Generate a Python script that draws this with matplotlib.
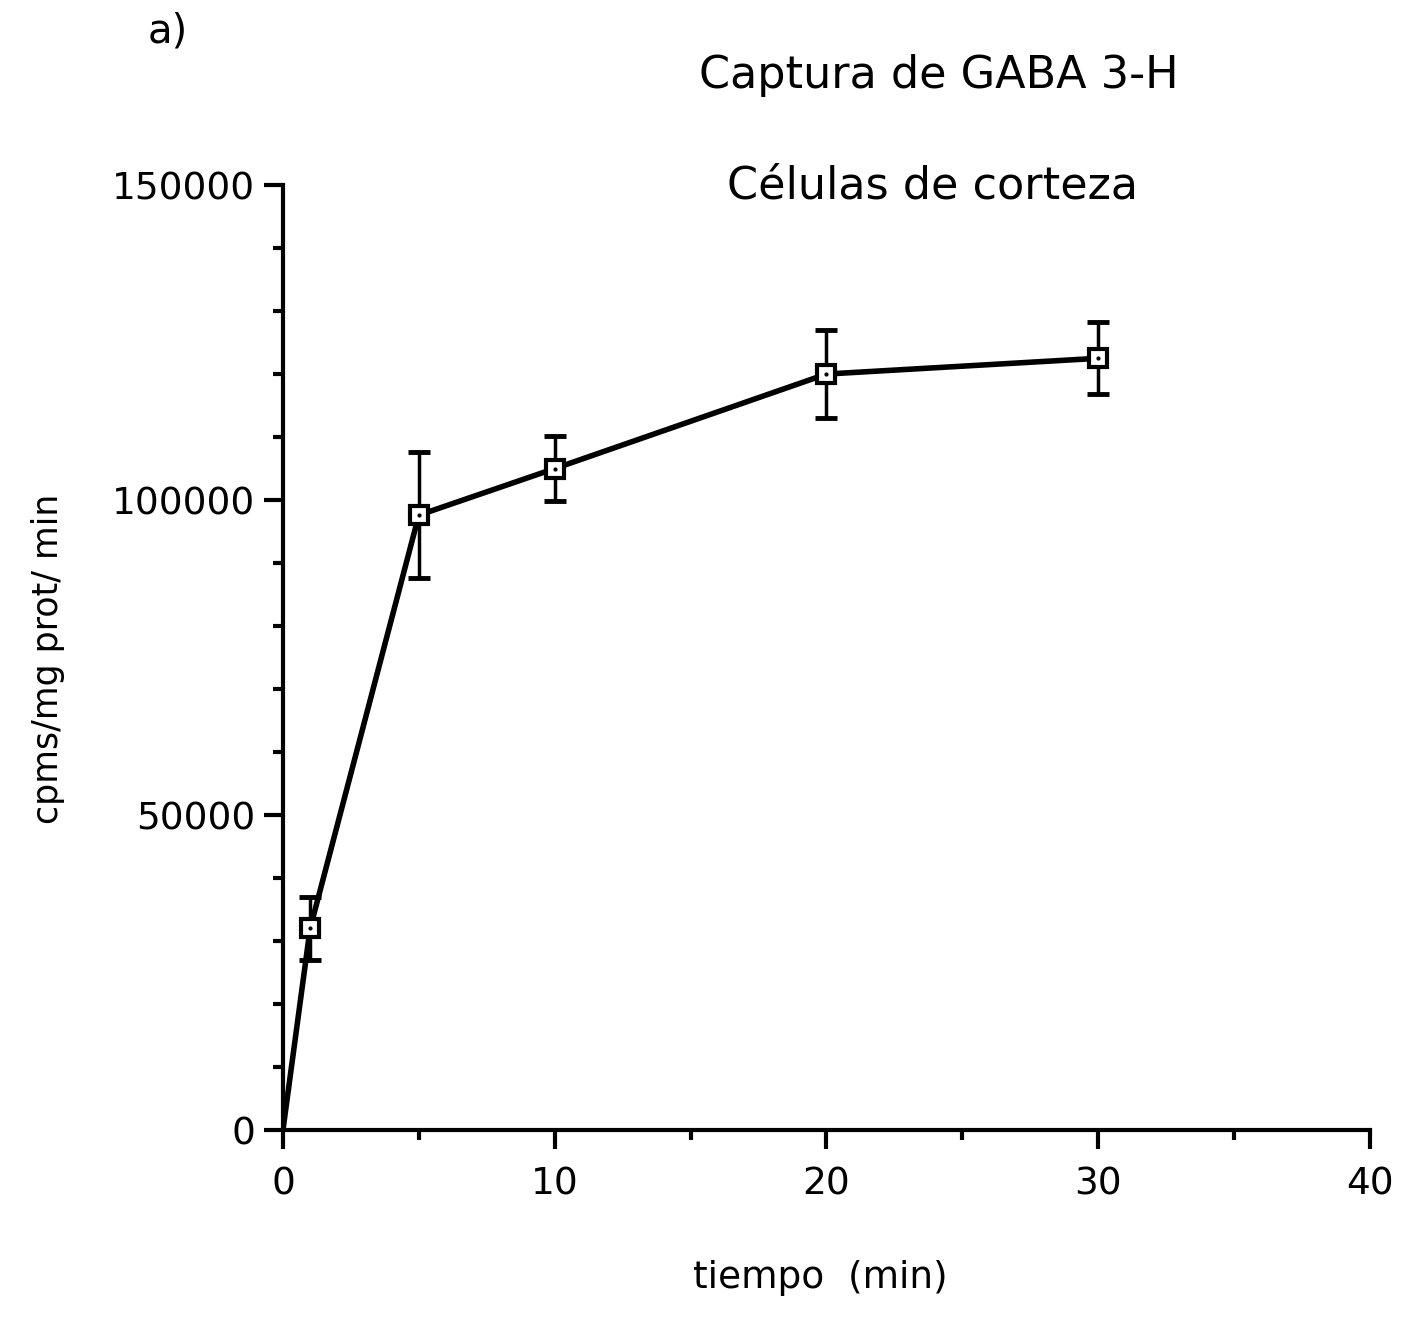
import numpy as np
import matplotlib as mpl
mpl.use('Agg')
import matplotlib.pyplot as plt

# Datos
tiempo = [0, 1, 5, 10, 20, 30]
captura = [0, 32000, 97600, 105000, 120000, 122500]
error = [0, 5000, 10000, 5200, 7000, 5700]

plt.rcParams['font.family'] = ['DejaVu Sans']

fig = plt.figure(figsize=(14.07, 13.18), dpi=100)
ax = fig.add_axes([0.2011, 0.1426, 0.7726, 0.717])

# curva principal
ax.plot(tiempo, captura, color='black', lw=4, zorder=2)
# barras de error (sin el punto en el origen)
ax.errorbar(tiempo[1:], captura[1:], yerr=error[1:], fmt='none', ecolor='black',
            elinewidth=2.5, capsize=8, capthick=3.5, zorder=3)
ax.plot(tiempo[1:], captura[1:], linestyle='none', marker='s', markersize=13,
        markerfacecolor='white', markeredgecolor='black', markeredgewidth=3, zorder=4)
ax.plot(tiempo[1:], captura[1:], linestyle='none', marker='.', markersize=4,
        color='black', zorder=5)

ax.set_xlim(0, 40)
ax.set_ylim(0, 150000)
ax.set_xticks([0, 10, 20, 30, 40])
ax.set_xticks([5, 15, 25, 35], minor=True)
ax.set_yticks([0, 50000, 100000, 150000])
ax.set_yticks(np.arange(10000, 150000, 10000), minor=True)

ax.spines['top'].set_visible(False)
ax.spines['right'].set_visible(False)
ax.spines['left'].set_linewidth(3)
ax.spines['bottom'].set_linewidth(3)

ax.tick_params(axis='both', which='major', direction='out', length=14, width=3,
               labelsize=27)
ax.tick_params(axis='x', which='major', pad=12)
ax.tick_params(axis='y', which='major', pad=6)
ax.tick_params(axis='both', which='minor', direction='out', length=7, width=3)

fig.text(0.105, 0.976, 'a)', fontsize=29, ha='left', va='center')
fig.text(0.667, 0.943, 'Captura de GABA 3-H', fontsize=32, ha='center', va='center')
fig.text(0.663, 0.859, 'Células de corteza', fontsize=32, ha='center', va='center')
fig.text(0.034, 0.50, 'cpms/mg prot/ min', fontsize=25, rotation=90, ha='center', va='center')
fig.text(0.583, 0.030, 'tiempo  (min)', fontsize=27, ha='center', va='center')

plt.savefig('out.png', dpi=100)
plt.close()
